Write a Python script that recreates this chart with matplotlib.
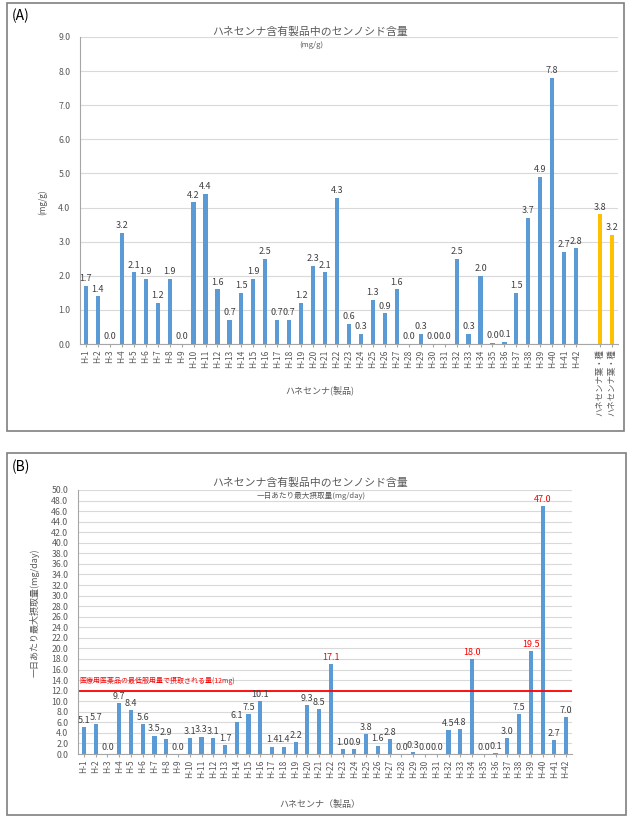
import numpy as np
import matplotlib.pyplot as plt
from matplotlib.patches import Rectangle

plt.rcParams['font.family'] = ['Noto Sans CJK JP', 'DejaVu Sans']

products = ["H-%d" % i for i in range(1, 43)]

# (A) sennoside content, mg/g
content_a = [1.7, 1.4, 0.0, 3.25, 2.1, 1.9, 1.2, 1.9, 0.0, 4.15, 4.4, 1.6, 0.7, 1.5,
             1.9, 2.5, 0.7, 0.7, 1.2, 2.3, 2.1, 4.28, 0.6, 0.3, 1.3, 0.9, 1.6, 0.0,
             0.3, 0.0, 0.0, 2.5, 0.3, 2.0, 0.03, 0.07, 1.5, 3.7, 4.9, 7.8, 2.7, 2.8]
leaf_labels = ["ハネセンナ葉・種", "ハネセンナ葉・種"]
leaf_values = [3.8, 3.2]

# (B) max daily intake, mg/day
intake_b = [5.1, 5.7, 0.0, 9.7, 8.4, 5.6, 3.5, 2.9, 0.0, 3.1, 3.3, 3.1, 1.7, 6.1,
            7.5, 10.1, 1.4, 1.4, 2.2, 9.3, 8.5, 17.1, 1.0, 0.9, 3.8, 1.6, 2.8, 0.0,
            0.3, 0.0, 0.0, 4.5, 4.8, 18.0, 0.0, 0.1, 3.0, 7.5, 19.5, 47.0, 2.7, 7.0]
limit_b = 12.0

blue = '#5B9BD5'
gold = '#FFC000'
grid_c = '#D9D9D9'
tick_c = '#595959'
lab_c = '#404040'

W, H = 628, 817
fig = plt.figure(figsize=(W / 100, H / 100), dpi=100)

def fx(px):
    return px / W

def fy(py):
    return 1 - py / H

# frames
fig.add_artist(Rectangle((fx(7), fy(431)), fx(624 - 7), (431 - 3) / H, transform=fig.transFigure,
                         fill=False, edgecolor='#7F7F7F', lw=1.2))
fig.add_artist(Rectangle((fx(7), fy(815)), fx(626 - 7), (815 - 453) / H, transform=fig.transFigure,
                         fill=False, edgecolor='#7F7F7F', lw=1.2))


def style(ax):
    for s in ['top', 'right']:
        ax.spines[s].set_visible(False)
    ax.spines['left'].set_color('#A6A6A6')
    ax.spines['bottom'].set_color('#A6A6A6')
    ax.yaxis.grid(True, color=grid_c, lw=0.8)
    ax.set_axisbelow(True)
    ax.tick_params(axis='y', length=0, labelsize=6.3, labelcolor=tick_c, pad=7)
    ax.tick_params(axis='x', length=2, color='#A6A6A6', labelsize=6, labelcolor=tick_c, pad=2)


# ---------------- panel A ----------------
axA = fig.add_axes([fx(80), fy(344), fx(538), (344 - 37) / H])
xa = np.arange(len(products))
xo = np.array([43, 44])
axA.bar(xa, content_a, width=0.35, color=blue)
axA.bar(xo, leaf_values, width=0.35, color=gold)
for x, v in zip(xa, content_a):
    axA.text(x, v + 0.08, "%.1f" % v, ha='center', va='bottom', fontsize=6.5, color=lab_c)
for x, v in zip(xo, leaf_values):
    axA.text(x, v + 0.08, "%.1f" % v, ha='center', va='bottom', fontsize=6.5, color=lab_c)
axA.set_xlim(-0.5, 44.5)
axA.set_ylim(0, 9)
axA.set_yticks(np.arange(0, 9.1, 1.0))
axA.set_yticklabels(["%.1f" % t for t in np.arange(0, 9.1, 1.0)])
axA.set_xticks(list(xa) + list(xo))
axA.set_xticklabels(products + leaf_labels, rotation=90)
style(axA)

fig.text(fx(12), fy(16), "(A)", fontsize=10, ha='left', va='center', color='black')
fig.text(fx(310), fy(32), "ハネセンナ含有製品中のセンノシド含量", fontsize=7.8, ha='center', va='center', color=tick_c)
fig.text(fx(311), fy(45), "(mg/g)", fontsize=5.5, ha='center', va='center', color=tick_c)
fig.text(fx(43), fy(202), "(mg/g)", fontsize=6, rotation=90, ha='center', va='center', color=tick_c)
fig.text(fx(320), fy(390), "ハネセンナ(製品)", fontsize=6.5, ha='center', va='center', color=tick_c)

# ---------------- panel B ----------------
axB = fig.add_axes([fx(78), fy(754), fx(494), (754 - 490) / H])
xb = np.arange(len(products))
axB.bar(xb, intake_b, width=0.35, color=blue)
for x, v in zip(xb, intake_b):
    c = '#FF0000' if v > limit_b else lab_c
    axB.text(x, v + 0.4, "%.1f" % v, ha='center', va='bottom', fontsize=6.5, color=c)
axB.axhline(limit_b, color='#FF0000', lw=1.3)
axB.text(-0.4, limit_b + 1.9, "医療用医薬品の最低服用量で摂取される量(12mg)", fontsize=5,
         color='#FF0000', ha='left', va='center')
axB.set_xlim(-0.5, 41.5)
axB.set_ylim(0, 50)
axB.set_yticks(np.arange(0, 50.1, 2.0))
axB.set_yticklabels(["%.1f" % t for t in np.arange(0, 50.1, 2.0)])
axB.set_xticks(xb)
axB.set_xticklabels(products, rotation=90)
style(axB)

fig.text(fx(12), fy(467), "(B)", fontsize=10, ha='left', va='center', color='black')
fig.text(fx(310), fy(483), "ハネセンナ含有製品中のセンノシド含量", fontsize=7.8, ha='center', va='center', color=tick_c)
fig.text(fx(311), fy(496), "一日あたり最大摂取量(mg/day)", fontsize=5.5, ha='center', va='center', color=tick_c)
fig.text(fx(35), fy(613), "一日あたり最大摂取量(mg/day)", fontsize=6.5, rotation=90, ha='center', va='center', color=tick_c)
fig.text(fx(320), fy(804), "ハネセンナ（製品）", fontsize=6.5, ha='center', va='center', color=tick_c)

fig.savefig('out.png', dpi=100)
